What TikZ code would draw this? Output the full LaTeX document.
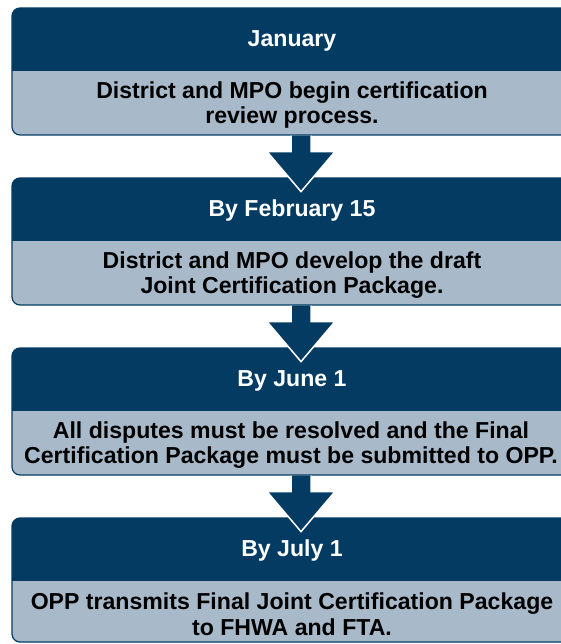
\documentclass[tikz,border=0pt]{standalone}
\usepackage{fontspec}
\setmainfont{Liberation Sans}
\definecolor{navy}{RGB}{3,59,98}
\definecolor{steel}{RGB}{168,186,202}

\begin{document}
\begin{tikzpicture}[x=1pt, y=-1pt,
    every node/.style={font=\fontsize{23.1}{25.5}\selectfont\bfseries, align=center, inner sep=0pt},
    stepbox/.style={draw=navy, line width=1.2pt, fill=steel, rounded corners=8pt,
      minimum width=578pt, minimum height=127pt,
      path picture={\fill [navy, sharp corners] (path picture bounding box.north west)
        rectangle ([yshift=-63pt]path picture bounding box.north east);}},
    headtext/.style={text=white},
    bodytext/.style={text=black},
    downarrow/.style={fill=navy, draw=white, line width=1.5pt}]
  \useasboundingbox (0,0) rectangle (560,644);

  \node [stepbox] (s1) at (301, 71.5) {};
  \node [stepbox] (s2) at (301, 241.5) {};
  \node [stepbox] (s3) at (301, 411.5) {};
  \node [stepbox, minimum height=124pt] (s4) at (301, 580) {};

  \filldraw [downarrow] ([xshift=-10pt]s1.south) -- ++(0,16) -- ++(-24,0) -- ++(34,40) -- ++(34,-40) -- ++(-24,0) -- ++(0,-16);
  \filldraw [downarrow] ([xshift=-10pt]s2.south) -- ++(0,16) -- ++(-24,0) -- ++(34,40) -- ++(34,-40) -- ++(-24,0) -- ++(0,-16);
  \filldraw [downarrow] ([xshift=-10pt]s3.south) -- ++(0,16) -- ++(-24,0) -- ++(34,40) -- ++(34,-40) -- ++(-24,0) -- ++(0,-16);

  \node [headtext] (h1) at (292, 41) {January};
  \node [bodytext] (b1) at (292, 105) {District and MPO begin certification\\review process.};
  \node [headtext] (h2) at (292, 211) {By February 15};
  \node [bodytext] (b2) at (292, 275) {District and MPO develop the draft\\Joint Certification Package.};
  \node [headtext] (h3) at (292, 381) {By June 1};
  \node [bodytext] (b3) at (291, 445) {All disputes must be resolved and the Final\\Certification Package must be submitted to OPP.};
  \node [headtext] (h4) at (292, 551) {By July 1};
  \node [bodytext] (b4) at (292, 614) {OPP transmits Final Joint Certification Package\\to FHWA and FTA.};
\end{tikzpicture}
\end{document}
